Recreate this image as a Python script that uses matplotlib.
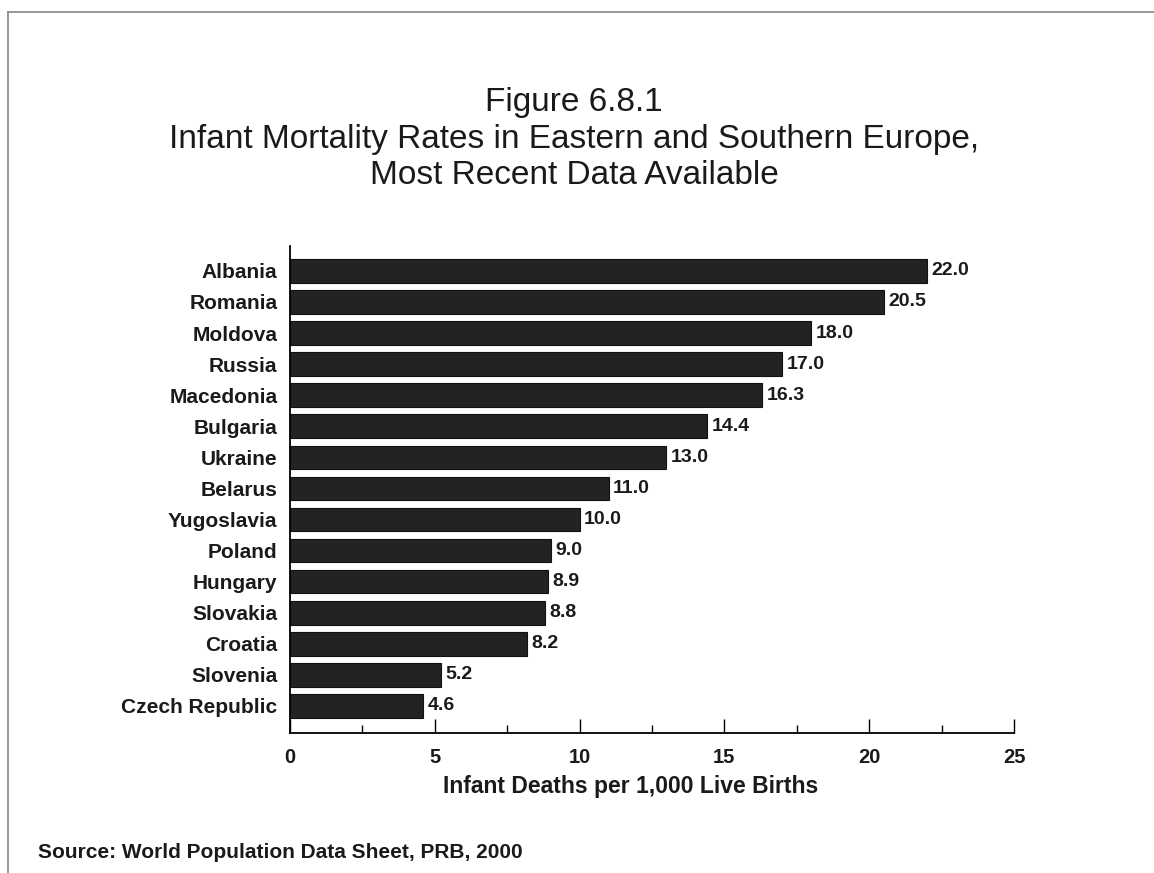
import matplotlib.pyplot as plt
import numpy as np

plt.rcParams['font.family'] = ['Liberation Sans', 'DejaVu Sans']

countries = ['Albania', 'Romania', 'Moldova', 'Russia', 'Macedonia', 'Bulgaria',
             'Ukraine', 'Belarus', 'Yugoslavia', 'Poland', 'Hungary', 'Slovakia',
             'Croatia', 'Slovenia', 'Czech Republic']
rates = [22.0, 20.5, 18.0, 17.0, 16.3, 14.4, 13.0, 11.0, 10.0, 9.0, 8.9, 8.8,
         8.2, 5.2, 4.6]

W, H = 1154, 873
fig = plt.figure(figsize=(W / 100, H / 100), dpi=100)
ax = fig.add_axes([290/W, 1 - 733/H, (1014 - 290)/W, (733 - 246)/H])

y = np.arange(len(countries))
ax.barh(y, rates, height=0.76, color='#232323', edgecolor='#111111', linewidth=0.8)
for yi, v in zip(y, rates):
    ax.text(v + 0.15, yi, f'{v:.1f}', va='center', ha='left',
            fontsize=14, fontweight='bold', color='#1a1a1a')

ax.set_ylim(len(countries) - 1 + 0.87, -0.8)
ax.set_xlim(0, 25)
ax.set_yticks(y)
ax.set_yticklabels(countries, fontsize=15, fontweight='bold', color='#1a1a1a')
ax.tick_params(axis='y', length=0, pad=9)
ax.set_xticks([0, 5, 10, 15, 20, 25])
ax.set_xticks(np.arange(2.5, 25, 5), minor=True)
ax.tick_params(axis='x', which='major', direction='in', length=10, width=1,
               labelsize=14.5, pad=11, labelcolor='#1a1a1a')
ax.tick_params(axis='x', which='minor', direction='in', length=6, width=1)
for lbl in ax.get_xticklabels():
    lbl.set_fontweight('bold')

ax.spines['top'].set_visible(False)
ax.spines['right'].set_visible(False)
ax.spines['left'].set_linewidth(1.3)
ax.spines['bottom'].set_linewidth(1.3)

# axis title and headings placed in figure pixels
fig.text(631/W, 1 - 793/H, 'Infant Deaths per 1,000 Live Births', ha='center',
         va='baseline', fontsize=16.5, fontweight='bold', color='#1a1a1a')

title_lines = ['Figure 6.8.1',
               'Infant Mortality Rates in Eastern and Southern Europe,',
               'Most Recent Data Available']
for line, base in zip(title_lines, [111, 148, 184]):
    fig.text(574/W, 1 - base/H, line, ha='center', va='baseline', fontsize=24,
             color='#1a1a1a')

fig.text(38/W, 1 - 858/H, 'Source: World Population Data Sheet, PRB, 2000',
         ha='left', va='baseline', fontsize=15, fontweight='bold', color='#1a1a1a')

# thin frame along the top and left edges
fig.add_artist(plt.Line2D([8/W, 1], [1 - 12/H, 1 - 12/H],
                          color='#888888', linewidth=1.2))
fig.add_artist(plt.Line2D([8/W, 8/W], [0, 1 - 12/H],
                          color='#888888', linewidth=1.2))

fig.savefig('out.png', dpi=100)
